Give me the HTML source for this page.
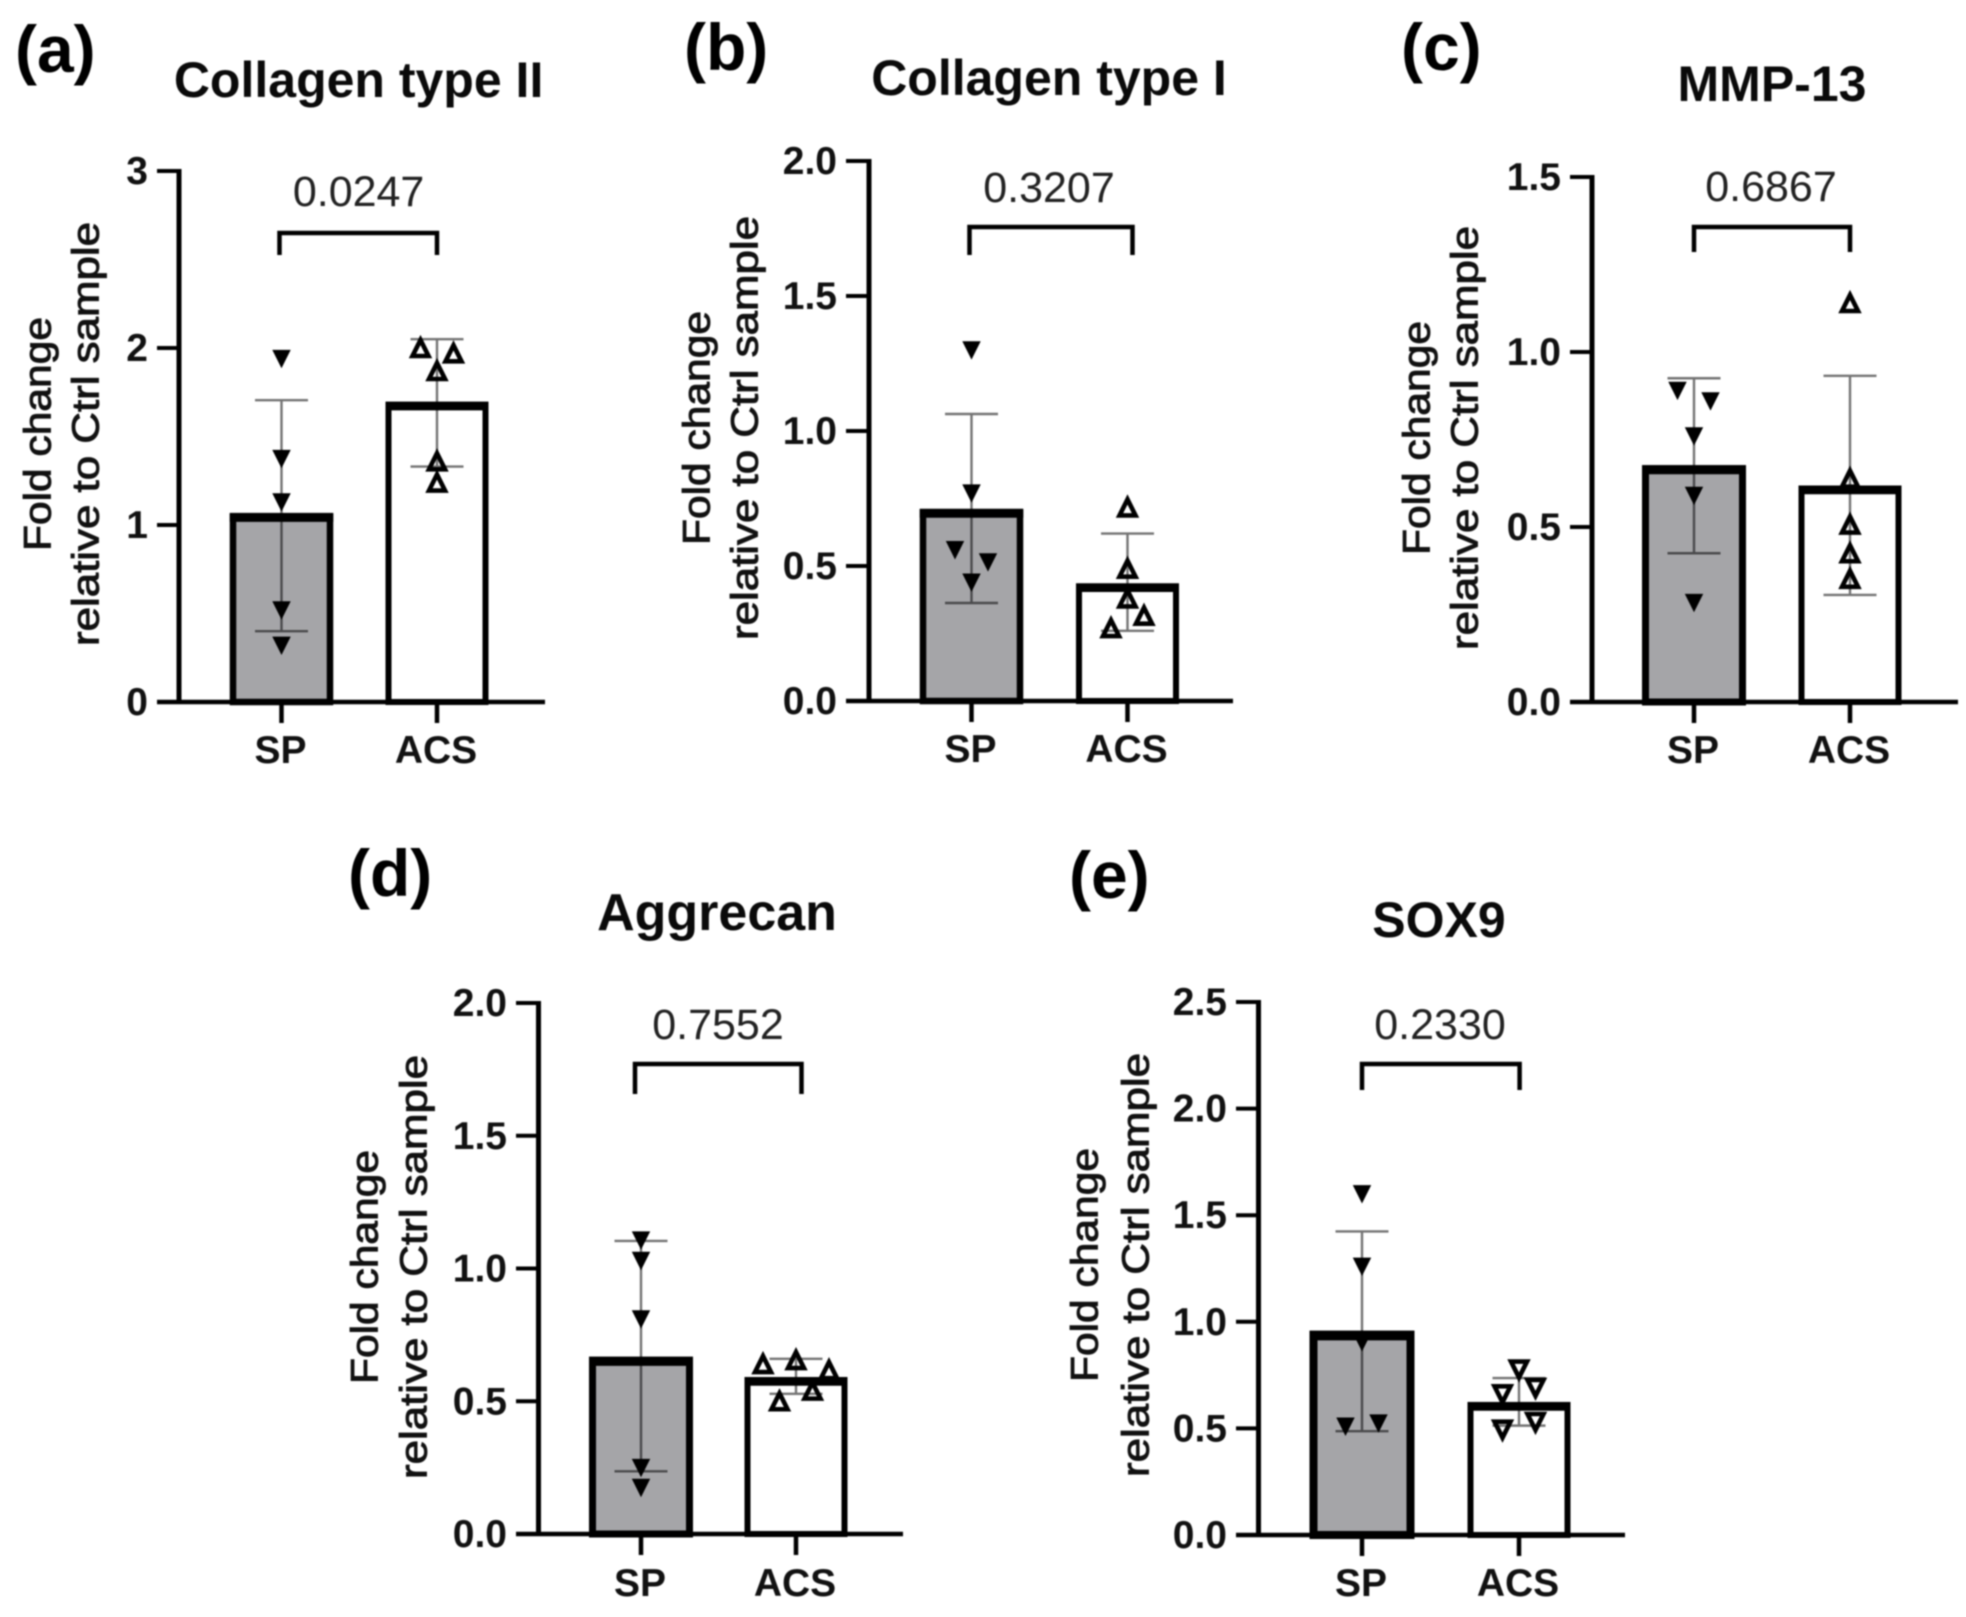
<!DOCTYPE html>
<html lang="en">
<head>
<meta charset="utf-8">
<title>Fold change relative to Ctrl sample: SP vs ACS</title>
<style>
  html, body { margin: 0; padding: 0; background: #fff; }
  #figure { display: block; width: 1966px; height: 1617px; filter: blur(0.9px); font-family: "Liberation Sans", Arial, sans-serif; }
  .panel-letter { font-size: 66px; font-weight: 700; fill: #000; }
  .title { font-size: 50px; font-weight: 700; fill: #0a0a0a; text-anchor: middle; }
  .ytitle { font-size: 38px; fill: #111; text-anchor: middle; stroke: #111; stroke-width: 0.9px; }
  .pval { font-size: 43px; fill: #222; text-anchor: middle; }
  .tick-label { font-size: 39px; font-weight: 700; fill: #111; text-anchor: end; }
  .cat-label { font-size: 39px; font-weight: 700; fill: #111; text-anchor: middle; }
</style>
</head>
<body>
<svg id="figure" xmlns="http://www.w3.org/2000/svg" width="1966" height="1617" viewBox="0 0 1966 1617">
  <rect width="1966" height="1617" fill="#fff"/>

  <g id="panel-a">
    <text class="panel-letter" x="15" y="72">(a)</text>
    <text class="title" x="358.6" y="97">Collagen type II</text>
    <g transform="translate(50.5,434) rotate(-90)">
      <text class="ytitle" x="0" y="0" textLength="234" lengthAdjust="spacingAndGlyphs">Fold change</text>
      <text class="ytitle" x="0" y="48" textLength="424" lengthAdjust="spacingAndGlyphs">relative to Ctrl sample</text>
    </g>
    <text class="pval" x="358.6" y="206">0.0247</text>
  </g>

  <g id="panel-b">
    <text class="panel-letter" x="684" y="70">(b)</text>
    <text class="title" x="1049" y="95">Collagen type I</text>
    <g transform="translate(709.5,428) rotate(-90)">
      <text class="ytitle" x="0" y="0" textLength="234" lengthAdjust="spacingAndGlyphs">Fold change</text>
      <text class="ytitle" x="0" y="48" textLength="424" lengthAdjust="spacingAndGlyphs">relative to Ctrl sample</text>
    </g>
    <text class="pval" x="1049" y="202">0.3207</text>
  </g>

  <g id="panel-c">
    <text class="panel-letter" x="1401" y="70">(c)</text>
    <text class="title" x="1772" y="101">MMP-13</text>
    <g transform="translate(1429.5,438) rotate(-90)">
      <text class="ytitle" x="0" y="0" textLength="234" lengthAdjust="spacingAndGlyphs">Fold change</text>
      <text class="ytitle" x="0" y="48" textLength="424" lengthAdjust="spacingAndGlyphs">relative to Ctrl sample</text>
    </g>
    <text class="pval" x="1771" y="201">0.6867</text>
  </g>

  <g id="panel-d">
    <text class="panel-letter" x="348" y="896">(d)</text>
    <text class="title" x="717" y="930" style="font-size:52px">Aggrecan</text>
    <g transform="translate(377.5,1267) rotate(-90)">
      <text class="ytitle" x="0" y="0" textLength="234" lengthAdjust="spacingAndGlyphs">Fold change</text>
      <text class="ytitle" x="0" y="49" textLength="424" lengthAdjust="spacingAndGlyphs">relative to Ctrl sample</text>
    </g>
    <text class="pval" x="718" y="1039">0.7552</text>
  </g>

  <g id="panel-e">
    <text class="panel-letter" x="1069" y="898">(e)</text>
    <text class="title" x="1439" y="937">SOX9</text>
    <g transform="translate(1097.5,1265) rotate(-90)">
      <text class="ytitle" x="0" y="0" textLength="234" lengthAdjust="spacingAndGlyphs">Fold change</text>
      <text class="ytitle" x="0" y="51" textLength="424" lengthAdjust="spacingAndGlyphs">relative to Ctrl sample</text>
    </g>
    <text class="pval" x="1440" y="1039">0.2330</text>
  </g>
</svg>

<script>
// ---- data ----
const categories = ['SP', 'ACS'];

const aTicks = [0, 1, 2, 3];
const aTickLabels = ['0', '1', '2', '3'];
const aMeans = [1.05, 1.68];
const aErrHigh = [1.705, 2.05];
const aErrLow = [0.40, 1.33];
const aSpPoints = [1.94, 1.375, 1.13, 0.52, 0.32];
const aSpJitter = [0, 0, 0, 0, 0];
const aAcsPoints = [2.0, 1.97, 1.87, 1.36, 1.24];
const aAcsJitter = [-1, 1, 0, 0, 0];

const bTicks = [0, 0.5, 1, 1.5, 2];
const bTickLabels = ['0.0', '0.5', '1.0', '1.5', '2.0'];
const bMeans = [0.70, 0.425];
const bErrHigh = [1.063, 0.62];
const bErrLow = [0.363, 0.26];
const bSpPoints = [1.30, 0.77, 0.56, 0.515, 0.44];
const bSpJitter = [0, 0, -1, 1, 0];
const bAcsPoints = [0.717, 0.49, 0.38, 0.316, 0.27];
const bAcsJitter = [0, 0, 0, 1, -1];

const cTicks = [0, 0.5, 1, 1.5];
const cTickLabels = ['0.0', '0.5', '1.0', '1.5'];
const cMeans = [0.667, 0.61];
const cErrHigh = [0.925, 0.932];
const cErrLow = [0.425, 0.306];
const cSpPoints = [0.89, 0.86, 0.76, 0.59, 0.284];
const cSpJitter = [-1, 1, 0, 0, 0];
const cAcsPoints = [1.14, 0.638, 0.507, 0.425, 0.352];
const cAcsJitter = [0, 0, 0, 0, 0];

const dTicks = [0, 0.5, 1, 1.5, 2];
const dTickLabels = ['0.0', '0.5', '1.0', '1.5', '2.0'];
const dMeans = [0.655, 0.58];
const dErrHigh = [1.104, 0.66];
const dErrLow = [0.236, 0.528];
const dSpPoints = [1.107, 1.03, 0.81, 0.25, 0.175];
const dSpJitter = [0, 0, 0, 0, 0];
const dAcsPoints = [0.64, 0.655, 0.617, 0.54, 0.50];
const dAcsJitter = [-2, 0, 2, 1, -1];

const eTicks = [0, 0.5, 1, 1.5, 2, 2.5];
const eTickLabels = ['0.0', '0.5', '1.0', '1.5', '2.0', '2.5'];
const eMeans = [0.94, 0.61];
const eErrHigh = [1.424, 0.736];
const eErrLow = [0.487, 0.513];
const eSpPoints = [1.6, 1.26, 0.906, 0.51, 0.525];
const eSpJitter = [0, 0, 0, -1, 1];
const eAcsPoints = [0.776, 0.69, 0.66, 0.53, 0.494];
const eAcsJitter = [0, 1, -1, 1, -1];

// ---- layout (frame geometry only; marks come from the arrays above) ----
const panels = [
  { id: 'a', axisX: 179, tickLeft: 157, xEnd: 545, yTop: 171, yBase: 702, centers: [281.5, 437], catBaseline: 763, bracketTop: 233, bracketBottom: 255, bracketDx: [-2, 0],
    ticks: aTicks, tickLabels: aTickLabels, means: aMeans, errHigh: aErrHigh, errLow: aErrLow, sp: aSpPoints, spJ: aSpJitter, acs: aAcsPoints, acsJ: aAcsJitter, spStroke: 6.5, acsInvert: false },
  { id: 'b', axisX: 869, tickLeft: 846, xEnd: 1233, yTop: 161, yBase: 701, centers: [971.5, 1127.5], catBaseline: 762, bracketTop: 227, bracketBottom: 255, bracketDx: [-2, 5],
    ticks: bTicks, tickLabels: bTickLabels, means: bMeans, errHigh: bErrHigh, errLow: bErrLow, sp: bSpPoints, spJ: bSpJitter, acs: bAcsPoints, acsJ: bAcsJitter, spStroke: 6.5, acsInvert: false },
  { id: 'c', axisX: 1592, tickLeft: 1570, xEnd: 1958, yTop: 177, yBase: 702, centers: [1694, 1850], catBaseline: 763, bracketTop: 227, bracketBottom: 252, bracketDx: [0, 0],
    ticks: cTicks, tickLabels: cTickLabels, means: cMeans, errHigh: cErrHigh, errLow: cErrLow, sp: cSpPoints, spJ: cSpJitter, acs: cAcsPoints, acsJ: cAcsJitter, spStroke: 7, acsInvert: false },
  { id: 'd', axisX: 538.5, tickLeft: 516, xEnd: 903, yTop: 1003, yBase: 1534, centers: [641, 796], catBaseline: 1596, bracketTop: 1064, bracketBottom: 1094, bracketDx: [-6, 5.5],
    ticks: dTicks, tickLabels: dTickLabels, means: dMeans, errHigh: dErrHigh, errLow: dErrLow, sp: dSpPoints, spJ: dSpJitter, acs: dAcsPoints, acsJ: dAcsJitter, spStroke: 7, acsInvert: false },
  { id: 'e', axisX: 1258.5, tickLeft: 1236, xEnd: 1625, yTop: 1002, yBase: 1535, centers: [1362, 1519], catBaseline: 1596, bracketTop: 1064, bracketBottom: 1090, bracketDx: [0, 0.6],
    ticks: eTicks, tickLabels: eTickLabels, means: eMeans, errHigh: eErrHigh, errLow: eErrLow, sp: eSpPoints, spJ: eSpJitter, acs: eAcsPoints, acsJ: eAcsJitter, spStroke: 8, acsInvert: true }
];

const SVG_NS = 'http://www.w3.org/2000/svg';
const BAR_WIDTH = 97;
const CAP_HALF = 26.5;
const JITTER_UNIT = 16.5;
const TRI_W = 16;
const TRI_H = 16;

function shape(parent, tag, props) {
  const node = document.createElementNS(SVG_NS, tag);
  for (const key in props) node.setAttribute(key, props[key]);
  parent.appendChild(node);
  return node;
}

function trianglePoints(cx, cy, down) {
  const s = down ? 1 : -1;
  return [
    [cx - TRI_W / 2, cy - s * TRI_H / 2],
    [cx + TRI_W / 2, cy - s * TRI_H / 2],
    [cx, cy + s * TRI_H / 2]
  ].map(function (p) { return p.join(','); }).join(' ');
}

function drawPanel(p) {
  const root = document.getElementById('panel-' + p.id);
  const maxValue = p.ticks[p.ticks.length - 1];
  const yScale = function (v) { return p.yBase - (v / maxValue) * (p.yBase - p.yTop); };
  const xScale = function (i) { return p.centers[i]; };

  // bars (top edge of the outline is heavier than the sides in the source)
  categories.forEach(function (cat, i) {
    const top = yScale(p.means[i]);
    const strokeW = i === 0 ? p.spStroke : 6;
    const el = shape(root, 'rect', {
      x: xScale(i) - BAR_WIDTH / 2, y: top, width: BAR_WIDTH, height: p.yBase - top,
      fill: i === 0 ? '#a5a5a8' : '#ffffff', stroke: '#000', 'stroke-width': strokeW
    });
    
    
    const edge = shape(root, 'line', {
      x1: xScale(i) - BAR_WIDTH / 2 - strokeW / 2, x2: xScale(i) + BAR_WIDTH / 2 + strokeW / 2,
      y1: top + 1.5, y2: top + 1.5, stroke: '#000', 'stroke-width': 8.5
    });
    
    
  });

  // error bars
  categories.forEach(function (cat, i) {
    const x = xScale(i);
    const hi = yScale(p.errHigh[i]);
    const lo = yScale(p.errLow[i]);
    const d = 'M' + x + ' ' + hi + 'V' + lo +
      'M' + (x - CAP_HALF) + ' ' + hi + 'H' + (x + CAP_HALF) +
      'M' + (x - CAP_HALF) + ' ' + lo + 'H' + (x + CAP_HALF);
    const el = shape(root, 'path', { d: d, fill: 'none', stroke: '#000', 'stroke-opacity': 0.55, 'stroke-width': 2.4 });
    
    
  });

  // SP points: solid downward triangles
  p.sp.forEach(function (v, k) {
    const el = shape(root, 'polygon', {
      points: trianglePoints(xScale(0) + p.spJ[k] * JITTER_UNIT, yScale(v), true),
      fill: '#000', stroke: '#000', 'stroke-width': 1.5, 'stroke-linejoin': 'miter'
    });
    
    
  });

  // ACS points: open triangles
  p.acs.forEach(function (v, k) {
    const el = shape(root, 'polygon', {
      points: trianglePoints(xScale(1) + p.acsJ[k] * JITTER_UNIT, yScale(v), p.acsInvert),
      fill: 'none', stroke: '#000', 'stroke-width': 4.6, 'stroke-linejoin': 'miter'
    });
    
    
  });

  // axes
  const yAxis = shape(root, 'line', { x1: p.axisX, x2: p.axisX, y1: p.yTop - 2, y2: p.yBase + 2, stroke: '#000', 'stroke-width': 5 });
  
  
  const xAxis = shape(root, 'line', { x1: p.tickLeft, x2: p.xEnd, y1: p.yBase, y2: p.yBase, stroke: '#000', 'stroke-width': 4.5 });
  
  

  // y ticks
  p.ticks.forEach(function (t, k) {
    const y = yScale(t);
    const mark = shape(root, 'line', { x1: p.tickLeft, x2: p.axisX, y1: y, y2: y, stroke: '#000', 'stroke-width': 4 });
    
    
    const label = shape(root, 'text', { x: p.tickLeft - 9, y: y + 13, 'class': 'tick-label' });
    label.textContent = p.tickLabels[k];
    
    
  });

  // x ticks and category labels
  categories.forEach(function (cat, i) {
    const x = xScale(i);
    const mark = shape(root, 'line', { x1: x, x2: x, y1: p.yBase, y2: p.yBase + 21, stroke: '#000', 'stroke-width': 4.5 });
    
    
    const label = shape(root, 'text', { x: x - 1, y: p.catBaseline, 'class': 'cat-label' });
    label.textContent = cat;
    
    
  });

  // significance bracket
  const bx0 = xScale(0) + p.bracketDx[0];
  const bx1 = xScale(1) + p.bracketDx[1];
  const bracket = shape(root, 'path', {
    d: 'M' + bx0 + ' ' + p.bracketBottom + 'V' + p.bracketTop + 'H' + bx1 + 'V' + p.bracketBottom,
    fill: 'none', stroke: '#000', 'stroke-width': 4.5
  });
  
  
}

panels.forEach(drawPanel);
</script>
</body>
</html>
